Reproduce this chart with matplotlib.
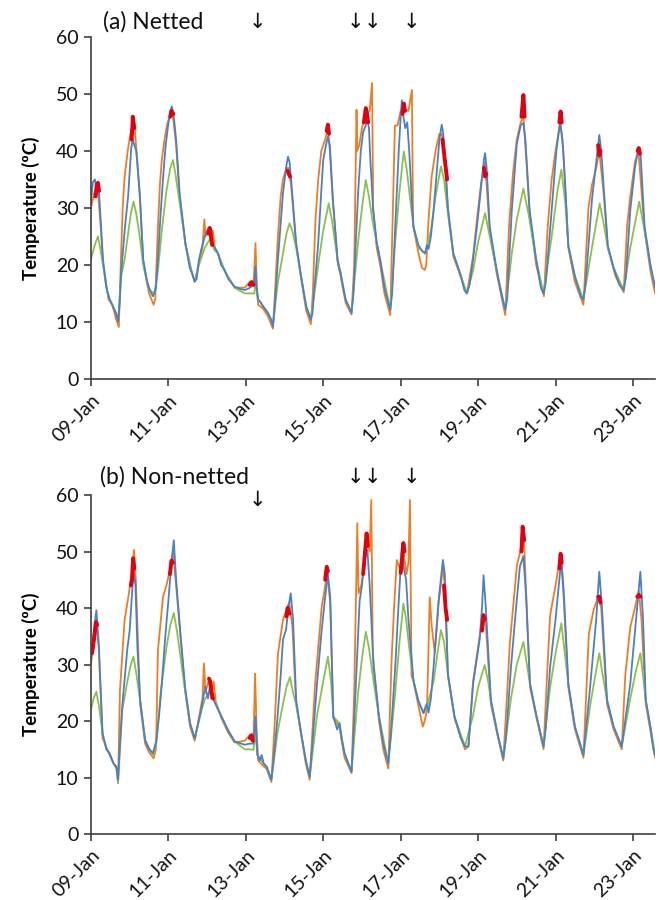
import numpy as np
import pandas as pd
import matplotlib
matplotlib.use('Agg')
import matplotlib.pyplot as plt
import matplotlib.dates as mdates

plt.rcParams['font.family'] = ['Lato', 'DejaVu Sans']

start = pd.Timestamp('2019-01-09')
x_end_days = 14.57
tick_days = [0, 2, 4, 6, 8, 10, 12, 14]
y_ticks = [0, 10, 20, 30, 40, 50, 60]

# (days since 09-Jan, temperature)
# ---------- (a) Netted ----------
a_blue = [(0.00, 31), (0.05, 34.5), (0.10, 35), (0.15, 33), (0.20, 33.5), (0.26, 27), (0.31, 21),
          (0.40, 16), (0.48, 14), (0.55, 13), (0.65, 11.5), (0.70, 10), (0.74, 13), (0.78, 18.6),
          (0.87, 26), (0.96, 32), (1.04, 40.5), (1.08, 42), (1.12, 41), (1.17, 40), (1.26, 32.6),
          (1.35, 21), (1.45, 17), (1.52, 15.6), (1.60, 14.5), (1.64, 15.1), (1.68, 16), (1.73, 21),
          (1.80, 29), (1.86, 35), (1.93, 41), (1.99, 44.3), (2.05, 47), (2.09, 47.8), (2.14, 46),
          (2.20, 42), (2.29, 32.6), (2.44, 23.8), (2.55, 19.5), (2.61, 18.6), (2.68, 17.1),
          (2.73, 17.5), (2.79, 20.9), (2.86, 23), (2.94, 25), (3.00, 26), (3.07, 26.1), (3.12, 24),
          (3.20, 23), (3.28, 22.1), (3.36, 20), (3.45, 19.1), (3.55, 17.5), (3.71, 16.2),
          (3.85, 15.8), (3.97, 15.6), (4.06, 15.8), (4.14, 16.2), (4.22, 16.5), (4.25, 19.7),
          (4.28, 16), (4.32, 13.9), (4.38, 13.5), (4.45, 12.7), (4.57, 11.6), (4.65, 10.5),
          (4.70, 9.2), (4.74, 12), (4.83, 20.9), (4.96, 32.6), (5.05, 37.5), (5.09, 39), (5.13, 38),
          (5.17, 35), (5.30, 23.8), (5.43, 17.9), (5.56, 12.7), (5.68, 10.4), (5.72, 11.5),
          (5.80, 18), (5.87, 23.8), (5.95, 33), (6.00, 38.4), (6.07, 41), (6.12, 42.5), (6.17, 41),
          (6.25, 31.4), (6.37, 20.9), (6.42, 19.2), (6.45, 18.6), (6.50, 16.5), (6.58, 13.9),
          (6.67, 12.5), (6.73, 11.6), (6.78, 15), (6.90, 32.6), (6.97, 40), (7.03, 43.3),
          (7.10, 44.5), (7.13, 46), (7.18, 44), (7.22, 38), (7.29, 29.6), (7.38, 24), (7.47, 20.9),
          (7.58, 16), (7.73, 12.1), (7.78, 15), (7.86, 26.7), (7.95, 40), (8.00, 46), (8.03, 48.9),
          (8.07, 46), (8.12, 44), (8.17, 45), (8.22, 40), (8.29, 31), (8.33, 26.7), (8.46, 23.4),
          (8.55, 22.5), (8.63, 22), (8.68, 23.5), (8.72, 22.8), (8.78, 25), (8.85, 29.6),
          (8.95, 38), (9.00, 42), (9.06, 44.6), (9.10, 43), (9.15, 38), (9.22, 30), (9.36, 22),
          (9.53, 18.6), (9.65, 15.5), (9.71, 15), (9.78, 16.5), (9.87, 21), (9.97, 26.7),
          (10.08, 34), (10.15, 38.5), (10.18, 39.6), (10.22, 37), (10.30, 26.7), (10.48, 19.1),
          (10.60, 15), (10.70, 12.1), (10.75, 14), (10.87, 29.6), (11.00, 41.3), (11.10, 44.5),
          (11.17, 44.9), (11.22, 42), (11.33, 29.6), (11.50, 20.9), (11.62, 16), (11.69, 15),
          (11.75, 17), (11.90, 29.6), (12.02, 40), (12.12, 45.1), (12.18, 42), (12.25, 34),
          (12.33, 23.4), (12.50, 18), (12.65, 14.5), (12.72, 13.9), (12.78, 17), (12.94, 31.4),
          (13.05, 38), (13.13, 42.8), (13.18, 40), (13.25, 33), (13.35, 23.4), (13.50, 19.5),
          (13.65, 16.5), (13.76, 15.6), (13.82, 18), (13.93, 29.6), (14.05, 37), (14.14, 40.5),
          (14.20, 39), (14.30, 26.7), (14.45, 20), (14.57, 16)]

a_orange = [(0.00, 30), (0.10, 33), (0.18, 33), (0.26, 26), (0.31, 20.5), (0.45, 14), (0.55, 13),
            (0.65, 10.5), (0.72, 9.1), (0.76, 18), (0.82, 30), (0.87, 35.5), (0.95, 40), (1.02, 43),
            (1.08, 45), (1.13, 44), (1.20, 38), (1.28, 30), (1.35, 20.5), (1.50, 15), (1.62, 13),
            (1.66, 14), (1.72, 25), (1.78, 34), (1.83, 38.4), (1.90, 42), (1.98, 45), (2.06, 46.5),
            (2.12, 46), (2.20, 41), (2.29, 32), (2.44, 23.5), (2.61, 18.5), (2.68, 17), (2.79, 20.5),
            (2.88, 23), (2.93, 28), (2.96, 25), (3.03, 26.5), (3.10, 24.5), (3.15, 26), (3.20, 23),
            (3.28, 22), (3.45, 19), (3.71, 16), (3.97, 16), (4.10, 17), (4.20, 16.5), (4.25, 23.8),
            (4.29, 15), (4.32, 13), (4.45, 12.3), (4.57, 11), (4.70, 8.8), (4.76, 16), (4.83, 25),
            (4.90, 32), (4.96, 35), (5.05, 37), (5.10, 37), (5.17, 34), (5.30, 23.5), (5.43, 17.5),
            (5.56, 12), (5.68, 9.6), (5.73, 15), (5.80, 28), (5.87, 35), (5.95, 40), (6.05, 42),
            (6.12, 44), (6.17, 40), (6.25, 31), (6.37, 20.5), (6.45, 18), (6.58, 13.3), (6.73, 11.3),
            (6.80, 20), (6.86, 47.2), (6.88, 40), (6.93, 41), (7.00, 44), (7.10, 46.5), (7.20, 47),
            (7.26, 51.9), (7.29, 30), (7.38, 23), (7.47, 20), (7.58, 15), (7.73, 11.2), (7.80, 30),
            (7.85, 44.4), (7.92, 44.5), (8.00, 47), (8.08, 47.5), (8.20, 47), (8.29, 50.7),
            (8.32, 27), (8.46, 22), (8.55, 19.5), (8.62, 19.1), (8.66, 20), (8.72, 28), (8.80, 35.5),
            (8.90, 40), (9.00, 43), (9.06, 43), (9.15, 38), (9.22, 29.5), (9.36, 21.5), (9.53, 18.3),
            (9.71, 15), (9.87, 21.5), (9.97, 28), (10.08, 34.5), (10.18, 38), (10.30, 26),
            (10.48, 18.5), (10.70, 11.2), (10.80, 27), (10.90, 36), (11.00, 42), (11.10, 45),
            (11.17, 46), (11.25, 38), (11.33, 29), (11.50, 20), (11.70, 14.5), (11.80, 27),
            (11.90, 35), (12.00, 40), (12.12, 45), (12.20, 40), (12.33, 23), (12.50, 17),
            (12.72, 13), (12.85, 30), (12.94, 34), (13.05, 37), (13.13, 40), (13.25, 32),
            (13.35, 23), (13.55, 18), (13.76, 15.2), (13.85, 27), (13.93, 32), (14.05, 38),
            (14.14, 40), (14.30, 26), (14.45, 19), (14.57, 15)]

a_green = [(0.00, 21), (0.10, 23.5), (0.18, 25), (0.24, 23), (0.31, 20), (0.40, 16), (0.48, 14),
           (0.55, 13), (0.65, 11.5), (0.70, 10), (0.78, 18), (0.87, 21), (0.95, 25), (1.03, 29),
           (1.10, 31.1), (1.17, 29), (1.26, 25), (1.35, 20), (1.45, 17), (1.52, 15.6), (1.64, 15),
           (1.73, 19), (1.83, 26), (1.95, 33), (2.05, 37), (2.12, 38.4), (2.18, 36), (2.29, 31),
           (2.44, 23.8), (2.61, 18.6), (2.68, 17.1), (2.79, 20), (2.94, 23), (3.07, 24.5),
           (3.20, 22.5), (3.28, 22), (3.45, 19), (3.71, 16), (3.97, 15), (4.14, 15), (4.22, 15),
           (4.25, 17), (4.32, 13.9), (4.45, 12.7), (4.57, 11.6), (4.70, 9.5), (4.83, 17), (4.96, 22),
           (5.05, 25.5), (5.13, 27.3), (5.20, 26), (5.30, 23), (5.43, 17.9), (5.56, 12.7),
           (5.68, 10.4), (5.87, 20), (6.00, 26), (6.14, 30.8), (6.22, 28), (6.37, 20.9),
           (6.45, 18.6), (6.58, 13.9), (6.73, 11.6), (6.90, 24), (7.00, 30), (7.10, 34.9),
           (7.18, 32), (7.29, 27), (7.47, 20.9), (7.73, 12.1), (7.86, 24), (7.97, 33), (8.08, 39.9),
           (8.15, 37), (8.22, 33), (8.33, 26.7), (8.46, 23), (8.63, 22), (8.78, 26), (8.90, 32),
           (9.04, 37.3), (9.12, 35), (9.22, 29), (9.36, 22), (9.53, 18.6), (9.71, 15), (9.87, 19),
           (10.00, 24), (10.18, 29.1), (10.30, 25), (10.48, 19), (10.70, 12.1), (10.87, 22),
           (11.00, 28), (11.17, 33.4), (11.30, 29), (11.50, 20.9), (11.69, 15), (11.90, 25),
           (12.05, 33), (12.15, 36.7), (12.25, 31), (12.33, 23.4), (12.50, 18), (12.72, 13.9),
           (12.94, 23), (13.14, 30.8), (13.25, 27), (13.35, 23), (13.50, 19.5), (13.76, 15.6),
           (13.93, 23), (14.16, 31.1), (14.30, 26), (14.45, 20), (14.57, 16)]

# red only shows where it is not covered by the others
a_red = [[(0.12, 32), (0.15, 34), (0.18, 34.4), (0.21, 33)],
         [(1.05, 42), (1.07, 44), (1.08, 46), (1.10, 45), (1.12, 44)],
         [(2.05, 46), (2.08, 47), (2.10, 46.8), (2.13, 46.5)],
         [(3.03, 25.5), (3.07, 26.5), (3.10, 25), (3.13, 23.5)],
         [(4.10, 16.5), (4.15, 17), (4.20, 16.5)],
         [(5.08, 36.5), (5.11, 36), (5.14, 35.5)],
         [(6.09, 43.5), (6.12, 44.6), (6.15, 43)],
         [(7.05, 45), (7.10, 47.5), (7.13, 46.5), (7.16, 45)],
         [(8.05, 46.5), (8.08, 48.3), (8.11, 47)],
         [(9.08, 42), (9.13, 39), (9.20, 35)],
         [(10.15, 37), (10.18, 35.5), (10.21, 36)],
         [(11.12, 46), (11.17, 49.8), (11.20, 46)],
         [(12.10, 45), (12.13, 46.9), (12.16, 45)],
         [(13.10, 41), (13.13, 39.2), (13.16, 40)],
         [(14.12, 40), (14.15, 40.5), (14.18, 39.5)]]

# ---------- (b) Non-netted ----------
b_blue = [(0.00, 30.8), (0.06, 35), (0.14, 39.6), (0.20, 34), (0.30, 17.8), (0.40, 15), (0.48, 14.3),
          (0.58, 12.5), (0.66, 11.9), (0.70, 9.6), (0.75, 16), (0.81, 22.8), (0.94, 32.8), (1.00, 36),
          (1.07, 43.4), (1.10, 46.7), (1.15, 44), (1.20, 33), (1.27, 23.7), (1.40, 16.6), (1.50, 15),
          (1.60, 14.3), (1.69, 16.6), (1.76, 21), (1.83, 26.6), (1.92, 35), (2.00, 41.3), (2.08, 48),
          (2.14, 52), (2.20, 45), (2.30, 36.4), (2.43, 26.1), (2.56, 19.6), (2.68, 16.9), (2.75, 19),
          (2.86, 22.5), (2.95, 26.1), (3.02, 24), (3.07, 26), (3.15, 24), (3.25, 22.5), (3.37, 20.8),
          (3.54, 18.4), (3.71, 16.4), (3.97, 15.8), (4.10, 16), (4.20, 16), (4.25, 20.8), (4.30, 14),
          (4.36, 13), (4.41, 14), (4.46, 12.5), (4.54, 11.9), (4.66, 9.6), (4.73, 14), (4.82, 20.8),
          (4.90, 28), (4.96, 34.4), (5.04, 36.2), (5.10, 40), (5.16, 42.6), (5.22, 38), (5.30, 23.7),
          (5.43, 17.8), (5.55, 13), (5.65, 10.1), (5.72, 16), (5.84, 26.6), (5.95, 35.4), (6.05, 42),
          (6.12, 46.1), (6.18, 42), (6.26, 20.8), (6.36, 18.5), (6.42, 19.6), (6.48, 16.5),
          (6.55, 14.3), (6.73, 11), (6.80, 20), (6.88, 32), (6.94, 41.3), (7.00, 44), (7.06, 48.4),
          (7.14, 50.3), (7.20, 44), (7.30, 29.6), (7.44, 20.8), (7.55, 16), (7.68, 12.5), (7.75, 18),
          (7.86, 29.6), (7.94, 40), (8.03, 50.9), (8.08, 47), (8.14, 45), (8.20, 38), (8.33, 27.2),
          (8.45, 23.7), (8.59, 21.4), (8.64, 22.5), (8.68, 23.1), (8.72, 21.5), (8.78, 24),
          (8.85, 29.6), (8.98, 41.3), (9.09, 48.5), (9.14, 46), (9.22, 28.3), (9.39, 20.8),
          (9.55, 17), (9.66, 15.5), (9.75, 15.5), (9.87, 26.6), (10.04, 34.4), (10.10, 40),
          (10.14, 45.8), (10.20, 40), (10.33, 23.7), (10.50, 17.8), (10.65, 13.4), (10.72, 17),
          (10.85, 29.6), (10.98, 40), (11.08, 47.4), (11.17, 49.2), (11.24, 42), (11.34, 26.6),
          (11.51, 20.8), (11.69, 15.5), (11.75, 19), (11.86, 29.6), (12.00, 38), (12.15, 48.8),
          (12.22, 42), (12.33, 26.6), (12.50, 19), (12.72, 14), (12.78, 18), (12.90, 26.6),
          (13.05, 38), (13.13, 46.4), (13.20, 40), (13.33, 23.7), (13.50, 19), (13.71, 15.5),
          (13.80, 20), (13.93, 26.6), (14.08, 38), (14.19, 46.4), (14.26, 38), (14.33, 23.7),
          (14.45, 19), (14.53, 14.9), (14.57, 14)]

b_orange = [(0.00, 30), (0.10, 36), (0.14, 37), (0.20, 33), (0.30, 17), (0.48, 14), (0.66, 11.5),
            (0.70, 9), (0.75, 25.5), (0.87, 37.9), (0.98, 42.6), (1.05, 46), (1.11, 50.3), (1.16, 45),
            (1.22, 33), (1.27, 23), (1.40, 16), (1.50, 14.5), (1.62, 13.4), (1.68, 15), (1.73, 32.5),
            (1.86, 41.9), (1.95, 44), (2.05, 47), (2.12, 50), (2.20, 44), (2.30, 36), (2.43, 25.5),
            (2.56, 19), (2.68, 16.5), (2.80, 21), (2.88, 24), (2.92, 30.2), (2.96, 25), (3.05, 27.5),
            (3.10, 24), (3.17, 27), (3.22, 23.5), (3.37, 20.5), (3.54, 18), (3.71, 16.2), (3.97, 16.5),
            (4.10, 17.5), (4.20, 17), (4.24, 28.4), (4.28, 18), (4.32, 13), (4.46, 12), (4.54, 11.5),
            (4.66, 9.2), (4.75, 20), (4.83, 31.9), (4.96, 37.9), (5.07, 40), (5.12, 41), (5.20, 37),
            (5.30, 23), (5.43, 17.5), (5.55, 12.5), (5.65, 9.6), (5.72, 18), (5.79, 26.6),
            (5.96, 40.2), (6.05, 44), (6.10, 46), (6.18, 41), (6.26, 20.5), (6.42, 19), (6.55, 13.5),
            (6.73, 10.8), (6.80, 25), (6.88, 55), (6.91, 42.6), (6.98, 44), (7.05, 47), (7.12, 52),
            (7.20, 50), (7.24, 59.1), (7.28, 32), (7.44, 20), (7.55, 15), (7.68, 11.6), (7.76, 30),
            (7.83, 40.2), (7.90, 48.5), (7.98, 47), (8.07, 50), (8.15, 46), (8.20, 48), (8.24, 59.1),
            (8.28, 28), (8.33, 27), (8.45, 23), (8.57, 19), (8.62, 20), (8.68, 22), (8.75, 41.9),
            (8.80, 37), (8.88, 32), (8.98, 41), (9.09, 47), (9.14, 44), (9.22, 28), (9.39, 20.5),
            (9.66, 15), (9.75, 15.5), (9.87, 27), (10.04, 35), (10.14, 39), (10.20, 37), (10.33, 23),
            (10.50, 17.5), (10.65, 13), (10.75, 25), (10.82, 33.8), (11.00, 47.4), (11.12, 51),
            (11.17, 54.5), (11.22, 46), (11.34, 26), (11.51, 20.5), (11.69, 15), (11.78, 28),
            (11.86, 38.7), (12.00, 44), (12.13, 49.6), (12.20, 43), (12.33, 26), (12.50, 18.5),
            (12.72, 13.5), (12.80, 26), (12.86, 35.4), (12.98, 39.6), (13.10, 42), (13.18, 40),
            (13.33, 23), (13.50, 18.5), (13.71, 15), (13.80, 28), (13.93, 36.6), (14.05, 40),
            (14.15, 43), (14.22, 38), (14.33, 23), (14.57, 13.5)]

b_green = [(0.00, 22), (0.07, 24), (0.14, 25.2), (0.20, 23), (0.30, 17.8), (0.40, 15), (0.48, 14.3),
           (0.58, 12.5), (0.66, 11.9), (0.70, 9), (0.75, 15), (0.81, 22), (0.94, 27), (1.03, 30),
           (1.10, 31.4), (1.18, 28), (1.27, 23.7), (1.40, 16.6), (1.60, 14), (1.69, 16), (1.80, 25),
           (1.95, 33), (2.05, 37), (2.14, 39.1), (2.22, 36), (2.30, 32), (2.43, 25.5), (2.56, 19.6),
           (2.68, 16.9), (2.86, 22), (2.95, 24), (3.07, 25), (3.20, 23.5), (3.37, 20.8), (3.54, 18.4),
           (3.71, 16.4), (3.97, 15), (4.10, 15), (4.20, 14.9), (4.25, 18), (4.30, 14), (4.46, 12.5),
           (4.54, 11.9), (4.66, 9.6), (4.82, 18), (4.96, 23), (5.05, 26), (5.14, 27.8), (5.22, 25),
           (5.30, 23), (5.43, 17.8), (5.55, 13), (5.65, 10.1), (5.84, 21), (6.00, 27), (6.12, 31.4),
           (6.20, 27), (6.26, 20.8), (6.42, 19.6), (6.55, 14.3), (6.73, 11), (6.90, 25), (7.00, 31),
           (7.10, 35.8), (7.18, 33), (7.30, 27), (7.44, 20.8), (7.68, 12.5), (7.86, 25), (7.97, 34),
           (8.07, 40.8), (8.14, 38), (8.22, 33), (8.33, 27.2), (8.45, 23.7), (8.59, 21.4),
           (8.68, 22.5), (8.85, 27), (8.95, 32), (9.04, 36.1), (9.12, 34), (9.22, 28.3), (9.39, 20.8),
           (9.66, 15.5), (9.87, 21), (10.00, 26), (10.17, 29.9), (10.26, 27), (10.33, 23.7),
           (10.50, 17.8), (10.65, 13.4), (10.85, 24), (11.00, 30), (11.17, 34), (11.26, 30),
           (11.34, 26.6), (11.51, 20.8), (11.69, 15.5), (11.86, 26), (12.00, 32), (12.15, 37.3),
           (12.24, 32), (12.33, 26.6), (12.50, 19), (12.72, 14), (12.90, 23), (13.05, 29),
           (13.13, 32), (13.22, 28), (13.33, 23.7), (13.50, 19), (13.71, 15.5), (13.93, 24),
           (14.08, 29), (14.19, 32), (14.26, 28), (14.33, 23.7), (14.45, 19), (14.57, 14)]

b_red = [[(0.03, 32), (0.08, 34.5), (0.13, 37.5), (0.16, 37)],
         [(1.03, 44), (1.06, 45), (1.09, 48.8), (1.12, 47)],
         [(2.04, 46), (2.08, 48.4), (2.11, 48)],
         [(3.05, 27.5), (3.08, 27), (3.12, 25), (3.15, 24)],
         [(4.10, 17), (4.15, 17.5), (4.18, 16.5)],
         [(5.05, 38.5), (5.08, 40), (5.10, 39.6), (5.13, 39)],
         [(6.05, 45), (6.09, 47.3), (6.12, 46.5)],
         [(7.03, 46), (7.08, 50), (7.12, 53.2), (7.15, 51)],
         [(8.00, 46.2), (8.04, 49), (8.07, 51.5), (8.10, 50)],
         [(9.12, 44), (9.16, 40), (9.20, 37.9)],
         [(10.10, 36), (10.14, 38.7), (10.17, 38)],
         [(11.12, 50), (11.15, 54.4), (11.19, 52)],
         [(12.10, 47), (12.13, 49.6), (12.16, 48)],
         [(13.10, 42), (13.13, 42), (13.16, 41)],
         [(14.11, 42), (14.15, 42.3), (14.19, 42)]]

a_arrows = [4.29, 6.82, 7.26, 8.29]
b_arrows = [4.31, 6.82, 7.26, 8.27]

c_blue = '#4a80c8'
c_orange = '#ee7d22'
c_green = '#8cc04b'
c_red = '#e0000f'
axis_c = '#404040'


def to_dates(pts):
    t, v = zip(*pts)
    return start + pd.to_timedelta(np.array(t), unit='D'), np.array(v)


def draw(ax, orange, green, blue, red, arrows, arrow_y, title, title_x, title_y):
    for pts, col in [(orange, c_orange), (green, c_green), (blue, c_blue)]:
        x, y = to_dates(pts)
        ax.plot(x, y, color=col, lw=1.3, solid_joinstyle='round')
    for seg in red:
        x, y = to_dates(seg)
        ax.plot(x, y, color=c_red, lw=2.8, solid_capstyle='round')

    ax.set_ylim(0, 60)
    ax.set_yticks(y_ticks)
    ax.set_xlim(start, start + pd.Timedelta(days=x_end_days))
    ax.set_xticks([start + pd.Timedelta(days=d) for d in tick_days])
    ax.xaxis.set_major_formatter(mdates.DateFormatter('%d-%b'))
    for lab in ax.get_xticklabels():
        lab.set_rotation(45)
        lab.set_ha('right')
        lab.set_rotation_mode('anchor')

    for s in ['top', 'right']:
        ax.spines[s].set_visible(False)
    for s in ['left', 'bottom']:
        ax.spines[s].set_color(axis_c)
        ax.spines[s].set_linewidth(1.2)
    ax.tick_params(colors=axis_c, labelcolor='#111111', labelsize=14, length=5, width=1.2)
    ax.tick_params(axis='y', pad=4)
    ax.tick_params(axis='x', pad=4)
    ax.set_ylabel('Temperature (ºC)', fontsize=13.5, fontweight='bold', labelpad=11)

    ax.text(title_x, title_y, title, transform=ax.transAxes, fontsize=16.5,
            ha='left', va='center', color='#111111')
    trans = ax.get_xaxis_transform()
    for d, yy in zip(arrows, arrow_y):
        ax.text(start + pd.Timedelta(days=d), yy, '↓', transform=trans, fontsize=15,
                ha='center', va='center', family=['DejaVu Sans'], color='#111111')


fig = plt.figure(figsize=(6.59, 9), dpi=100)
ax1 = fig.add_axes([0.138, 0.579, 0.856, 0.38])
ax2 = fig.add_axes([0.138, 0.0733, 0.856, 0.3767])

draw(ax1, a_orange, a_green, a_blue, a_red, a_arrows, [1.044, 1.044, 1.044, 1.044],
     '(a) Netted', 0.021, 1.044)
draw(ax2, b_orange, b_green, b_blue, b_red, b_arrows, [0.985, 1.053, 1.053, 1.053],
     '(b) Non-netted', 0.016, 1.055)

fig.savefig('out.png', dpi=100)
